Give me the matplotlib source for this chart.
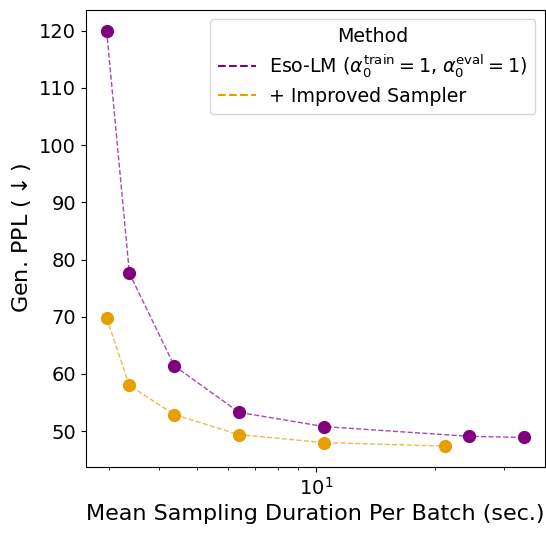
import numpy as np
import matplotlib
matplotlib.use('Agg')
import matplotlib.pyplot as plt
from matplotlib.lines import Line2D


eso_x = [2.95, 3.37, 4.38, 6.39, 10.5, 24.5, 33.7]
eso_ppl = [120.0, 77.6, 61.4, 53.3, 50.8, 49.1, 48.9]

imp_x = [2.95, 3.37, 4.38, 6.39, 10.5, 21.2]
imp_ppl = [69.8, 58.0, 52.9, 49.4, 48.0, 47.4]

purple = '#800080'
orange = '#E69F00'


fig = plt.figure(figsize=(5.46, 5.46), dpi=100)
ax = fig.add_axes([0.157, 0.145, 0.841, 0.837])

ax.plot(eso_x, eso_ppl, '--', color=purple, lw=1, alpha=0.7)
ax.plot(eso_x, eso_ppl, 'o', color=purple, ms=8.5, ls='none')
ax.plot(imp_x, imp_ppl, '--', color=orange, lw=1, alpha=0.7)
ax.plot(imp_x, imp_ppl, 'o', color=orange, ms=8.5, ls='none')

ax.set_xscale('log')
ax.set_xlabel('Mean Sampling Duration Per Batch (sec.)', fontsize=16)
ax.set_ylabel(r'Gen. PPL ($\downarrow$)', fontsize=16)
ax.tick_params(labelsize=14)

handles = [Line2D([], [], color=purple, ls='--', lw=1.5),
           Line2D([], [], color=orange, ls='--', lw=1.5)]
labels = [r'Eso-LM ($\alpha_0^{\mathrm{train}}=1$, $\alpha_0^{\mathrm{eval}}=1$)',
          '+ Improved Sampler']
ax.legend(handles, labels, title='Method', fontsize=13.7, title_fontsize=13.7,
          loc='upper right', labelspacing=0.35, handletextpad=0.7)

fig.savefig('out.png', dpi=100)
